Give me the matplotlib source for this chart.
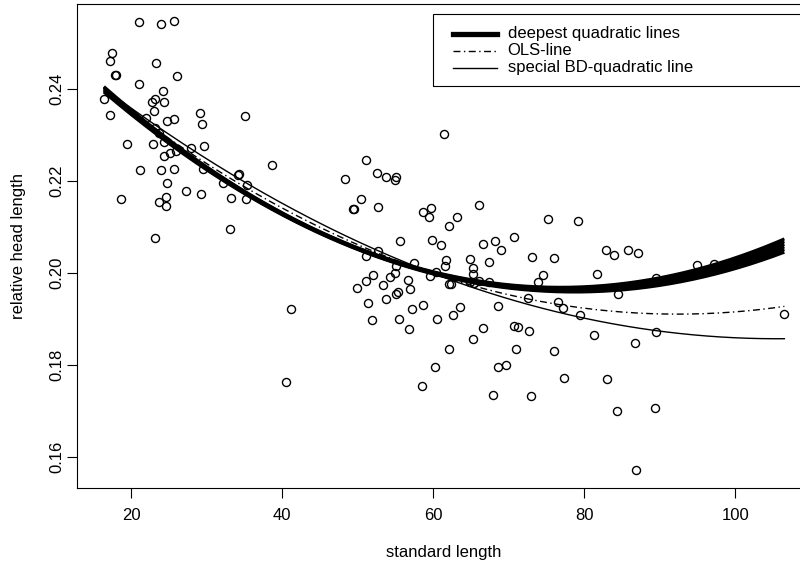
import numpy as np
import matplotlib
matplotlib.use("Agg")
import matplotlib.pyplot as plt
from matplotlib.lines import Line2D
from matplotlib.patches import Rectangle

plt.rcParams['font.family'] = ['Liberation Sans', 'DejaVu Sans']

# data
standard_length = [
    21.06, 23.88, 25.64, 17.39, 17.13, 17.79, 17.92, 23.22, 26.04, 20.97,
    16.37, 24.18, 22.69, 23.12, 24.28, 23.04, 17.17, 21.99, 24.77, 25.64,
    29.08, 29.31, 35.09, 23.08, 23.65, 19.38, 22.86, 24.28, 27.85, 29.66,
    24.37, 25.07, 25.96, 21.14, 23.92, 25.64, 29.53, 34.24, 34.10, 38.70,
    24.71, 32.08, 35.35, 18.58, 23.65, 24.58, 24.58, 27.28, 29.27, 33.24,
    35.22, 33.05, 23.18,
    61.47, 51.14, 48.27, 52.51, 53.79, 55.08, 54.94, 49.33, 49.50, 50.42,
    52.69, 59.75, 58.60, 59.48, 66.06, 63.15, 62.13, 75.20, 55.55, 59.84,
    60.98, 66.59, 68.13, 69.01, 70.70, 51.11, 52.64, 57.41, 55.08, 54.98,
    54.32, 52.07, 51.14, 49.91, 53.36, 56.70, 56.88, 61.69, 61.51, 60.41,
    59.62, 64.87, 65.22, 65.31, 67.39, 73.08, 74.48, 73.87, 62.04, 62.30,
    64.82, 65.35, 66.01, 67.33, 55.34, 55.12, 53.79, 51.32, 57.23, 58.69,
    63.55, 62.66, 68.62, 72.59, 51.85, 55.51, 56.74, 60.54, 66.59, 65.27,
    70.70, 71.17, 72.68, 62.09, 70.91, 60.28, 68.62, 69.64, 40.52, 41.09,
    58.46, 67.86, 72.95,
    79.17, 75.99, 82.91, 83.97, 85.73, 87.06, 81.63, 89.49, 94.99, 97.25,
    84.41, 76.56, 77.13, 79.47, 106.51, 81.28, 86.71, 89.49, 75.94, 77.26,
    82.95, 84.28, 89.31, 86.84,
]
rel_head_length = [
    0.2544, 0.2541, 0.2546, 0.2477, 0.2460, 0.2429, 0.2429, 0.2456, 0.2428, 0.2411,
    0.2378, 0.2395, 0.2371, 0.2377, 0.2372, 0.2351, 0.2342, 0.2337, 0.2329, 0.2334,
    0.2346, 0.2324, 0.2340, 0.2315, 0.2304, 0.2279, 0.2279, 0.2283, 0.2270, 0.2275,
    0.2254, 0.2259, 0.2264, 0.2224, 0.2223, 0.2225, 0.2225, 0.2214, 0.2212, 0.2233,
    0.2194, 0.2195, 0.2190, 0.2160, 0.2153, 0.2165, 0.2145, 0.2178, 0.2170, 0.2162,
    0.2161, 0.2094, 0.2076,
    0.2302, 0.2244, 0.2203, 0.2216, 0.2207, 0.2209, 0.2201, 0.2139, 0.2139, 0.2161,
    0.2142, 0.2141, 0.2131, 0.2121, 0.2147, 0.2121, 0.2102, 0.2116, 0.2069, 0.2070,
    0.2060, 0.2063, 0.2069, 0.2050, 0.2078, 0.2036, 0.2047, 0.2020, 0.2015, 0.2000,
    0.1991, 0.1996, 0.1982, 0.1967, 0.1974, 0.1984, 0.1964, 0.2027, 0.2014, 0.2002,
    0.1992, 0.2029, 0.2010, 0.1998, 0.2023, 0.2033, 0.1995, 0.1979, 0.1975, 0.1975,
    0.1980, 0.1977, 0.1982, 0.1980, 0.1957, 0.1954, 0.1942, 0.1934, 0.1921, 0.1930,
    0.1926, 0.1907, 0.1927, 0.1945, 0.1897, 0.1900, 0.1877, 0.1899, 0.1879, 0.1856,
    0.1884, 0.1882, 0.1874, 0.1835, 0.1835, 0.1795, 0.1794, 0.1800, 0.1763, 0.1921,
    0.1754, 0.1734, 0.1732,
    0.2112, 0.2032, 0.2049, 0.2038, 0.2050, 0.2043, 0.1998, 0.1989, 0.2017, 0.2019,
    0.1954, 0.1937, 0.1923, 0.1908, 0.1911, 0.1864, 0.1848, 0.1872, 0.1830, 0.1771,
    0.1768, 0.1699, 0.1705, 0.1571,
]

# quadratic fits y = a + b*x + c*x^2
deepest_a = [0.26726, 0.26682, 0.26638, 0.26595, 0.26551, 0.26507]
deepest_b = [-1.8338e-3, -1.8192e-3, -1.8045e-3, -1.7899e-3, -1.7752e-3, -1.7606e-3]
deepest_c = [1.1935e-5, 1.1785e-5, 1.1635e-5, 1.1486e-5, 1.1336e-5, 1.1186e-5]
ols_coef = [0.2627, -1.5528e-3, 8.406e-6]
bd_coef = [0.2619, -1.4449e-3, 6.844e-6]

legend_labels = ["deepest quadratic lines", "OLS-line", "special BD-quadratic line"]
x_ticks = [20, 40, 60, 80, 100]
y_ticks = [0.16, 0.18, 0.20, 0.22, 0.24]

W, H = 800, 565
fig = plt.figure(figsize=(W / 100, H / 100), dpi=100)
ax = fig.add_axes([76.7 / W, 1 - 488 / H, (811.6 - 76.7) / W, (488 - 3.5) / H])

sl = np.array(standard_length)
rh = np.array(rel_head_length)

ax.plot(sl, rh, 'o', ms=5.8, mfc='none', mec='black', mew=1.0, clip_on=False)

xs = np.linspace(sl.min(), sl.max(), 300)
for a, b, c in zip(deepest_a, deepest_b, deepest_c):
    ax.plot(xs, a + b * xs + c * xs ** 2, color='black', lw=2.2, solid_capstyle='butt')
ax.plot(xs, ols_coef[0] + ols_coef[1] * xs + ols_coef[2] * xs ** 2,
        color='black', lw=1.0, dashes=[5, 2.5, 1, 2.5])
ax.plot(xs, bd_coef[0] + bd_coef[1] * xs + bd_coef[2] * xs ** 2,
        color='black', lw=1.0)

# R style 4% range extension
xr = sl.max() - sl.min()
yr = rh.max() - rh.min()
ax.set_xlim(sl.min() - 0.04 * xr, sl.max() + 0.04 * xr)
ax.set_ylim(rh.min() - 0.04 * yr, rh.max() + 0.04 * yr)

ax.set_xticks(x_ticks)
ax.set_xticklabels([str(t) for t in x_ticks])
ax.set_yticks(y_ticks)
ax.set_yticklabels(['%.2f' % t for t in y_ticks], rotation=90, va='center')
ax.tick_params(direction='out', length=7.2, width=0.8, labelsize=12, color='black')
ax.tick_params(axis='x', pad=7.5)
ax.tick_params(axis='y', pad=2.0)
for s in ax.spines.values():
    s.set_linewidth(0.8)

fig.text(444 / W, 1 - 552.5 / H, "standard length", ha='center', va='center', fontsize=12)
fig.text(19 / W, 1 - 245.75 / H, "relative head length", ha='center', va='center',
         rotation=90, fontsize=12)

# legend drawn R style
def fx(px):
    return px / W

def fy(py):
    return 1 - py / H

fig.add_artist(Rectangle((fx(433), fy(86)), fx(812) - fx(433), fy(14) - fy(86),
                         transform=fig.transFigure, fill=False, ec='black', lw=0.8))
rows = [33.5, 50.5, 67.5]
styles = [dict(lw=3.8), dict(lw=1.0, dashes=[5, 2.5, 1, 2.5]), dict(lw=1.0)]
for row, lab, st in zip(rows, legend_labels, styles):
    fig.add_artist(Line2D([fx(453), fx(497)], [fy(row), fy(row)],
                          transform=fig.transFigure, color='black', **st))
    fig.text(fx(507.7), fy(row), lab, ha='left', va='center', fontsize=12)

fig.savefig("out.png", dpi=100)
